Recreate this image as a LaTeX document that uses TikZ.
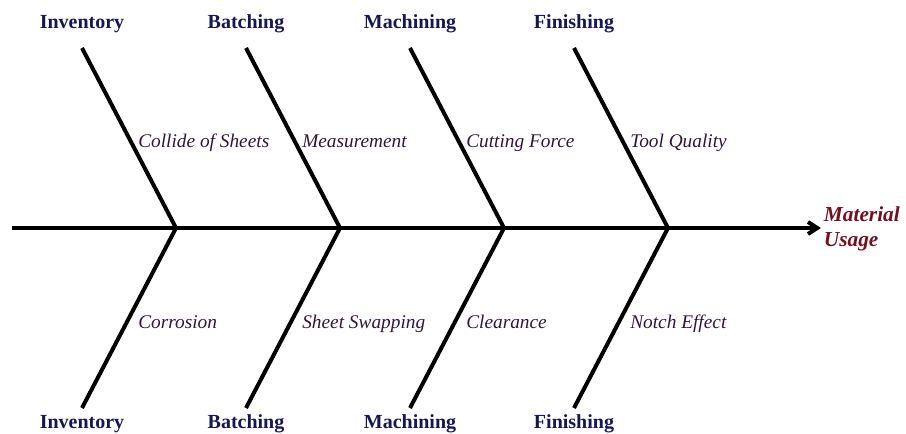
\documentclass[tikz,border=0pt]{standalone}
\usepackage{fontspec}
\setmainfont{Liberation Serif}
\usepackage{xcolor}
\usetikzlibrary{arrows.meta, positioning}

\definecolor{catblue}{RGB}{22,22,82}
\definecolor{causeplum}{RGB}{48,22,58}
\definecolor{effectred}{RGB}{112,18,32}

\begin{document}
\begin{tikzpicture}[
    x=0.75pt, y=-0.75pt,
    cat/.style={
      font=\fontsize{15}{18}\selectfont\bfseries,
      text=catblue, anchor=base, inner sep=0pt
    },
    cause/.style={
      font=\fontsize{14.5}{17}\selectfont\itshape,
      text=causeplum, anchor=base west, inner sep=0pt
    },
    effect/.style={
      font=\fontsize{16}{18.75}\selectfont\bfseries\itshape,
      text=effectred, anchor=base west, align=left, inner sep=2pt
    },
    bone/.style={line width=3pt},
    spine/.style={line width=3pt, -{Straight Barb[length=7pt, width=9pt]}}
  ]
  \useasboundingbox (0,0) rectangle (906,434);

  % spine and effect
  \coordinate (tail) at (12,228);
  \node[effect] (usage) at (821,247) {Material\\Usage};
  \draw[spine] (tail) -- (usage.west |- tail);

  % joints on the spine
  \coordinate (j1) at (176,228);
  \coordinate (j2) at (340,228);
  \coordinate (j3) at (504,228);
  \coordinate (j4) at (668,228);

  % upper bones
  \node[cat] (invup)  at (82,29)  {Inventory};
  \node[cat] (batup)  at (246,29) {Batching};
  \node[cat] (macup)  at (410,29) {Machining};
  \node[cat] (finup)  at (574,29) {Finishing};
  \coordinate (u1) at (82,48);
  \coordinate (u2) at (246,48);
  \coordinate (u3) at (410,48);
  \coordinate (u4) at (574,48);
  \draw[bone] (u1) -- (j1);
  \draw[bone] (u2) -- (j2);
  \draw[bone] (u3) -- (j3);
  \draw[bone] (u4) -- (j4);

  \node[cause] (collide) at (138,148) {Collide of Sheets};
  \node[cause] (measure) at (302,148) {Measurement};
  \node[cause] (force)   at (466,148) {Cutting Force};
  \node[cause] (tool)    at (630,148) {Tool Quality};

  % lower bones
  \node[cat] (invlow) at (82,428)  {Inventory};
  \node[cat] (batlow) at (246,428) {Batching};
  \node[cat] (maclow) at (410,428) {Machining};
  \node[cat] (finlow) at (574,428) {Finishing};
  \coordinate (l1) at (82,408);
  \coordinate (l2) at (246,408);
  \coordinate (l3) at (410,408);
  \coordinate (l4) at (574,408);
  \draw[bone] (l1) -- (j1);
  \draw[bone] (l2) -- (j2);
  \draw[bone] (l3) -- (j3);
  \draw[bone] (l4) -- (j4);

  \node[cause] (corros)  at (138,329) {Corrosion};
  \node[cause] (swap)    at (302,329) {Sheet Swapping};
  \node[cause] (clear)   at (466,329) {Clearance};
  \node[cause] (notch)   at (630,329) {Notch Effect};
\end{tikzpicture}
\end{document}
